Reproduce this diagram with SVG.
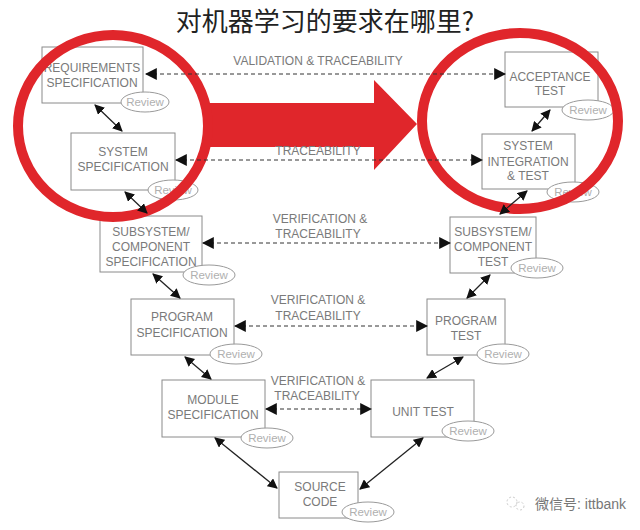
<svg xmlns="http://www.w3.org/2000/svg" width="640" height="530" viewBox="0 0 640 530">
<defs>
<style>
.box{fill:#fff;stroke:#8a8a8a;stroke-width:1}
.t{font-family:"Liberation Sans",Arial,sans-serif;font-size:12px;fill:#7a7a7a;text-anchor:middle}
.rv{fill:#fff;stroke:#9a9a9a;stroke-width:1}
.rt{font-family:"Liberation Sans",Arial,sans-serif;font-size:11.5px;fill:#b0b0b0;text-anchor:middle}
.lbl{font-family:"Liberation Sans",Arial,sans-serif;font-size:12px;fill:#7a7a7a;text-anchor:middle}
.dash{stroke:#333;stroke-width:1;stroke-dasharray:4 3;fill:none;marker-start:url(#ah);marker-end:url(#ah)}
.sol{stroke:#222;stroke-width:1.3;fill:none;marker-start:url(#ah2);marker-end:url(#ah2)}
.red{fill:none;stroke:#e0262b;stroke-width:10}
</style>
<marker id="ah" viewBox="0 0 10 10" refX="9" refY="5" markerWidth="12" markerHeight="12" markerUnits="userSpaceOnUse" orient="auto-start-reverse"><path d="M0,0L10,5L0,10z" fill="#111"/></marker>
<marker id="ah2" viewBox="0 0 10 10" refX="9" refY="5" markerWidth="10" markerHeight="10" markerUnits="userSpaceOnUse" orient="auto-start-reverse"><path d="M0,0L10,5L0,10z" fill="#111"/></marker>
</defs>
<rect width="640" height="530" fill="#fff"/>
<text x="325" y="31" font-family="'Noto Sans CJK SC',sans-serif" font-size="26" fill="#222" text-anchor="middle">对机器学习的要求在哪里?</text>

<g id="req"><rect class="box" x="42" y="47" width="101" height="56"/><text class="t" x="92" y="72">REQUIREMENTS</text><text class="t" x="92" y="87">SPECIFICATION</text><ellipse class="rv" cx="145" cy="102" rx="24" ry="10"/><text class="rt" x="145" y="106">Review</text></g>
<g id="sysspec"><rect class="box" x="71" y="133" width="104" height="57"/><text class="t" x="123" y="156">SYSTEM</text><text class="t" x="123" y="171">SPECIFICATION</text><ellipse class="rv" cx="173" cy="190" rx="25" ry="10"/><text class="rt" x="173" y="194">Review</text></g>
<g id="subspec"><rect class="box" x="100" y="216" width="102" height="56"/><text class="t" x="151" y="236">SUBSYSTEM/</text><text class="t" x="151" y="251">COMPONENT</text><text class="t" x="151" y="266">SPECIFICATION</text><ellipse class="rv" cx="209" cy="275" rx="26" ry="10"/><text class="rt" x="209" y="279">Review</text></g>
<g id="progspec"><rect class="box" x="131" y="299" width="103" height="56"/><text class="t" x="182" y="321">PROGRAM</text><text class="t" x="182" y="337">SPECIFICATION</text><ellipse class="rv" cx="236" cy="354" rx="26" ry="10"/><text class="rt" x="236" y="358">Review</text></g>
<g id="modspec"><rect class="box" x="162" y="380" width="103" height="57"/><text class="t" x="213" y="404">MODULE</text><text class="t" x="213" y="419">SPECIFICATION</text><ellipse class="rv" cx="267" cy="438" rx="26" ry="10"/><text class="rt" x="267" y="442">Review</text></g>
<g id="source"><rect class="box" x="279" y="472" width="79" height="46"/><text class="t" x="320" y="491">SOURCE</text><text class="t" x="320" y="506">CODE</text><ellipse class="rv" cx="368" cy="512" rx="26" ry="10"/><text class="rt" x="368" y="516">Review</text></g>
<g id="unit"><rect class="box" x="371" y="380" width="103" height="57"/><text class="t" x="423" y="416">UNIT TEST</text><ellipse class="rv" cx="468" cy="431" rx="26" ry="10"/><text class="rt" x="468" y="435">Review</text></g>
<g id="progtest"><rect class="box" x="427" y="299" width="78" height="56"/><text class="t" x="466" y="325">PROGRAM</text><text class="t" x="466" y="340">TEST</text><ellipse class="rv" cx="503" cy="354" rx="26" ry="10"/><text class="rt" x="503" y="358">Review</text></g>
<g id="subtest"><rect class="box" x="450" y="217" width="86" height="56"/><text class="t" x="493" y="236">SUBSYSTEM/</text><text class="t" x="493" y="251">COMPONENT</text><text class="t" x="493" y="266">TEST</text><ellipse class="rv" cx="537" cy="268" rx="26" ry="10"/><text class="rt" x="537" y="272">Review</text></g>
<g id="sysint"><rect class="box" x="482" y="134" width="93" height="55"/><text class="t" x="528" y="150">SYSTEM</text><text class="t" x="528" y="166">INTEGRATION</text><text class="t" x="528" y="180">&amp; TEST</text><ellipse class="rv" cx="573" cy="192" rx="26" ry="10"/><text class="rt" x="573" y="196">Review</text></g>
<g id="accept"><rect class="box" x="505" y="52" width="93" height="55"/><text class="t" x="550" y="81">ACCEPTANCE</text><text class="t" x="550" y="95">TEST</text><ellipse class="rv" cx="588" cy="110" rx="26" ry="10"/><text class="rt" x="588" y="114">Review</text></g>

<g id="highlight">
<path d="M205,103 L374,103 L374,80 L417,124 L374,170 L374,147 L205,147 z" fill="#e0262b"/>
<ellipse class="red" cx="113" cy="126" rx="95" ry="91"/>
<ellipse class="red" cx="520" cy="121" rx="98" ry="88"/>
</g>

<g id="labels">
<text class="lbl" x="318" y="65">VALIDATION &amp; TRACEABILITY</text>
<text class="lbl" x="318" y="155" fill="#888">TRACEABILITY</text>
<text class="lbl" x="320" y="223">VERIFICATION &amp;</text>
<text class="lbl" x="318" y="238">TRACEABILITY</text>
<text class="lbl" x="318" y="304">VERIFICATION &amp;</text>
<text class="lbl" x="318" y="320">TRACEABILITY</text>
<text class="lbl" x="318" y="385">VERIFICATION &amp;</text>
<text class="lbl" x="317" y="400">TRACEABILITY</text>
</g>

<g id="connectors">
<line class="dash" x1="146" y1="74" x2="505" y2="74"/>
<line class="dash" x1="176" y1="160" x2="482" y2="160"/>
<line class="dash" x1="203" y1="243" x2="450" y2="243"/>
<line class="dash" x1="235" y1="326" x2="427" y2="326"/>
<line class="dash" x1="266" y1="409" x2="371" y2="409"/>
<line class="sol" x1="95" y1="105" x2="122" y2="131"/>
<line class="sol" x1="125" y1="192" x2="147" y2="213"/>
<line class="sol" x1="153" y1="274" x2="180" y2="298"/>
<line class="sol" x1="185" y1="357" x2="211" y2="379"/>
<line class="sol" x1="215" y1="438" x2="277" y2="488"/>
<line class="sol" x1="360" y1="489" x2="423" y2="438"/>
<line class="sol" x1="427" y1="378" x2="463" y2="357"/>
<line class="sol" x1="467" y1="298" x2="490" y2="275"/>
<line class="sol" x1="500" y1="214" x2="527" y2="191"/>
<line class="sol" x1="532" y1="131" x2="550" y2="110"/>
</g>

<g id="watermark">
<circle cx="512" cy="502" r="5" fill="none" stroke="#ccc" stroke-width="1" stroke-dasharray="2 2"/>
<circle cx="520" cy="506" r="4" fill="none" stroke="#ccc" stroke-width="1" stroke-dasharray="2 2"/>
<text x="535" y="509" font-family="'Liberation Sans','Noto Sans CJK SC',sans-serif" font-size="14" fill="#777">微信号: ittbank</text>
</g>
</svg>
